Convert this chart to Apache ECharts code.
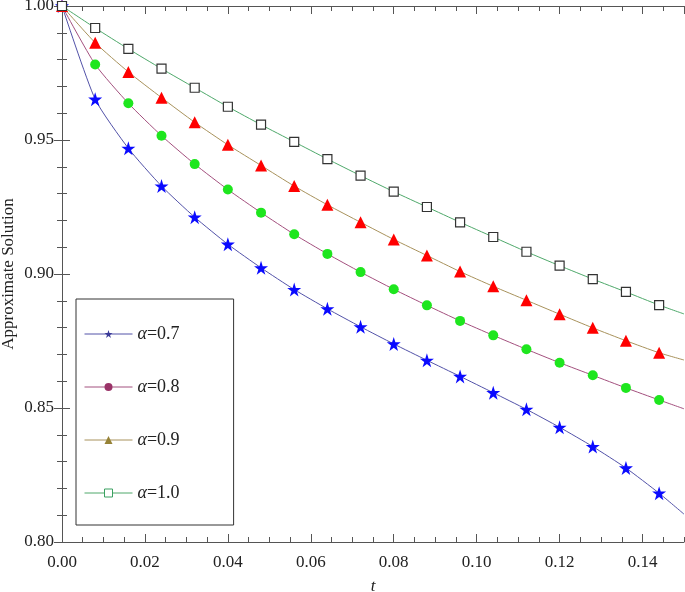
<!DOCTYPE html>
<html><head><meta charset="utf-8">
<script src="https://cdn.jsdelivr.net/npm/echarts@6/dist/echarts.min.js"></script>
<style>html,body{margin:0;padding:0;background:#fff}#c{width:685px;height:592px}</style>
</head><body><div id="c"></div>
<script>
const tVals = [0, 0.008, 0.016, 0.024, 0.032, 0.04, 0.048, 0.056, 0.064, 0.072, 0.08, 0.088, 0.096, 0.104, 0.112, 0.12, 0.128, 0.136, 0.144];
const tEnd = 0.15;
const a07 = [1.0, 0.9652, 0.9469, 0.9328, 0.9212, 0.9111, 0.9023, 0.8942, 0.8870, 0.8803, 0.8739, 0.8678, 0.8618, 0.8557, 0.8495, 0.8428, 0.8356, 0.8276, 0.8182, 0.8104];
const a08 = [1.0, 0.9782, 0.9637, 0.9516, 0.9410, 0.9315, 0.9229, 0.9148, 0.9075, 0.9007, 0.8943, 0.8883, 0.8825, 0.8771, 0.8719, 0.8669, 0.8622, 0.8575, 0.8530, 0.8497];
const a09 = [1.0, 0.9863, 0.9754, 0.9658, 0.9566, 0.9482, 0.9405, 0.9328, 0.9258, 0.9193, 0.9129, 0.9069, 0.9009, 0.8954, 0.8902, 0.8850, 0.8799, 0.8751, 0.8706, 0.8679];
const a10 = [1.0, 0.9918, 0.9840, 0.9766, 0.9695, 0.9624, 0.9557, 0.9493, 0.9429, 0.9367, 0.9307, 0.9250, 0.9193, 0.9138, 0.9083, 0.9031, 0.8981, 0.8933, 0.8884, 0.8851];
const names = ['α=0.7', 'α=0.8', 'α=0.9', 'α=1.0'];

const STAR = 'path://M50,0 L61.2,34.5 L97.6,34.5 L68.2,55.9 L79.4,90.5 L50,69.1 L20.6,90.5 L31.8,55.9 L2.4,34.5 L38.8,34.5 Z';
const FONT = '"Liberation Serif", "Times New Roman", serif';

function mk(vals) {
  const d = tVals.map((t, i) => [t, vals[i]]);
  d.push({ value: [tEnd, vals[vals.length - 1]], symbol: 'none' });
  return d;
}
const cfg = [
  { vals: a07, line: '#5252a8', sym: STAR, size: 14, item: { color: '#0a0aff' }, leg: { color: '#3a3a98' } },
  { vals: a08, line: '#a3507e', sym: 'circle', size: 10, item: { color: '#1ee61e' }, leg: { color: '#9a3368' } },
  { vals: a09, line: '#a8925c', sym: 'triangle', size: 12, item: { color: '#ff0000' }, leg: { color: '#968236' } },
  { vals: a10, line: '#4ea86a', sym: 'rect', size: 9, item: { color: '#ffffff', borderColor: '#333333', borderWidth: 1.2 }, leg: { color: '#ffffff', borderColor: '#3aa060', borderWidth: 1 } }
];

const series = cfg.map((c, i) => ({
  name: names[i], type: 'line', data: mk(c.vals), smooth: 0.2,
  symbol: c.sym, symbolSize: c.size, showSymbol: true, showAllSymbol: true,
  itemStyle: c.item, lineStyle: { color: c.line, width: 1 }, z: 2 + i, animation: false
}));

const axisLineStyle = { color: '#555', width: 1 };
const labelFont = { fontFamily: FONT, fontSize: 17, color: '#222' };
const option = {
  animation: false,
  grid: { left: 62, right: 1, top: 6, bottom: 50, outerBoundsMode: 'none', containLabel: false },
  legend: {
    orient: 'vertical', left: 76, top: 299,
    padding: [26, 54, 23, 8], itemGap: 35, itemWidth: 48, itemHeight: 10,
    backgroundColor: '#fff', borderColor: '#333', borderWidth: 1,
    textStyle: { fontFamily: FONT, fontSize: 18, lineHeight: 18, color: '#222',
      rich: { a: { fontFamily: FONT, fontSize: 18, lineHeight: 18, fontStyle: 'italic', color: '#222' } } },
    formatter: n => '{a|α}' + n.slice(1),
    data: names.map((n, i) => ({ name: n, itemStyle: cfg[i].leg, lineStyle: { color: cfg[i].line, width: 1 } }))
  },
  xAxis: [
    { type: 'value', min: 0, max: 0.15, interval: 0.02, position: 'bottom',
      name: 't', nameLocation: 'middle', nameGap: 36, nameMoveOverlap: false,
      nameTextStyle: { fontFamily: FONT, fontSize: 17, fontStyle: 'italic', color: '#222' },
      axisLine: { show: true, lineStyle: axisLineStyle },
      axisTick: { show: true, inside: true, length: 8, lineStyle: axisLineStyle },
      axisLabel: { ...labelFont, margin: 12, showMaxLabel: false, formatter: v => v.toFixed(2) },
      splitLine: { show: false } },
    { type: 'value', min: 0, max: 0.15, interval: 0.005, position: 'bottom',
      axisLine: { show: false }, axisTick: { show: true, inside: true, length: 5, lineStyle: axisLineStyle },
      axisLabel: { show: false }, splitLine: { show: false } },
    { type: 'value', min: 0, max: 0.15, interval: 0.02, position: 'top',
      axisLine: { show: true, lineStyle: axisLineStyle },
      axisTick: { show: true, inside: true, length: 8, lineStyle: axisLineStyle },
      axisLabel: { show: false }, splitLine: { show: false } },
    { type: 'value', min: 0, max: 0.15, interval: 0.005, position: 'top',
      axisLine: { show: false }, axisTick: { show: true, inside: true, length: 5, lineStyle: axisLineStyle },
      axisLabel: { show: false }, splitLine: { show: false } }
  ],
  yAxis: [
    { type: 'value', min: 0.8, max: 1.0, interval: 0.05, position: 'left',
      name: 'Approximate Solution', nameLocation: 'middle', nameGap: 45, nameMoveOverlap: false,
      nameTextStyle: { fontFamily: FONT, fontSize: 17, color: '#222' },
      axisLine: { show: true, lineStyle: axisLineStyle },
      axisTick: { show: true, inside: true, length: 8, lineStyle: axisLineStyle },
      minorTick: { show: true, splitNumber: 5, length: 5, lineStyle: axisLineStyle },
      axisLabel: { ...labelFont, margin: 8, formatter: v => v.toFixed(2) },
      splitLine: { show: false } },
    { type: 'value', min: 0.8, max: 1.0, interval: 0.05, position: 'right',
      axisLine: { show: true, lineStyle: axisLineStyle },
      axisTick: { show: true, inside: true, length: 8, lineStyle: axisLineStyle },
      minorTick: { show: true, splitNumber: 5, length: 5, lineStyle: axisLineStyle },
      axisLabel: { show: false }, splitLine: { show: false } }
  ],
  series: series
};
const chart = echarts.init(document.getElementById('c'), null, { renderer: 'canvas' });
chart.setOption(option);
</script></body></html>
